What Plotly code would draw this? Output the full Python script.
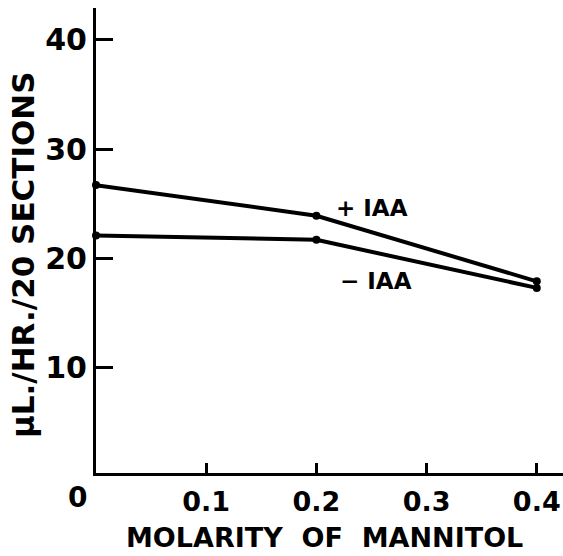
import plotly.graph_objects as go

molarity = [0.0, 0.2, 0.4]
plus_iaa = [26.7, 23.9, 17.9]
minus_iaa = [22.1, 21.7, 17.3]
y_ticks = [10, 20, 30, 40]
x_ticks = [0.1, 0.2, 0.3, 0.4]
x_tick_text = ["0.1", "0.2", "0.3", "0.4"]

FONT = "DejaVu Sans"
W, H = 563, 556
L, R, T, B = 96, 0, 8, 83


def px_to_paper(xp, yp):
    return (xp - L) / (W - L - R), (H - B - yp) / (H - T - B)


fig = go.Figure()
for ys in (plus_iaa, minus_iaa):
    fig.add_trace(go.Scatter(
        x=molarity, y=ys, mode="lines+markers",
        line=dict(color="black", width=4),
        marker=dict(color="black", size=8),
        showlegend=False, cliponaxis=False,
    ))

fig.add_annotation(x=0.2505, y=24.6, text="<b>+ IAA</b>", showarrow=False,
                   font=dict(family=FONT, size=23, color="black"))
fig.add_annotation(x=0.254, y=17.9, text="<b>− IAA</b>", showarrow=False,
                   font=dict(family=FONT, size=23, color="black"))
fig.add_annotation(x=0, y=0.37, xref="x", yref="y", text="<b>0</b>", showarrow=False,
                   xshift=-19, yshift=-24, xanchor="center", yanchor="middle",
                   font=dict(family=FONT, size=28, color="black"))

tx, ty = px_to_paper(324, 538)
fig.add_annotation(x=tx, y=ty, xref="paper", yref="paper", xanchor="center", yanchor="middle",
                   text="<b>MOLARITY&nbsp; OF&nbsp; MANNITOL</b>",
                   showarrow=False, font=dict(family=FONT, size=27, color="black"))
tx, ty = px_to_paper(23, 255)
fig.add_annotation(x=tx, y=ty, xref="paper", yref="paper", xanchor="center", yanchor="middle",
                   text="<b>μL./HR./20 SECTIONS</b>",
                   textangle=-90, showarrow=False, font=dict(family=FONT, size=31, color="black"))

fig.update_layout(
    width=W, height=H,
    margin=dict(l=L, r=R, t=T, b=B),
    plot_bgcolor="white", paper_bgcolor="white",
    font=dict(family=FONT, color="black"),
    xaxis=dict(
        range=[0, 0.4238], tickvals=x_ticks, ticktext=[f"<b>{t}</b>" for t in x_tick_text],
        ticks="inside", ticklen=10, tickwidth=3, tickcolor="black",
        showline=True, linewidth=3, linecolor="black", showgrid=False, zeroline=False,
        tickfont=dict(family=FONT, size=27, color="black"),
        ticklabelstandoff=3,
    ),
    yaxis=dict(
        range=[0.37, 42.9], tickvals=y_ticks, ticktext=[f"<b>{t}</b>" for t in y_ticks],
        ticks="inside", ticklen=17, tickwidth=3, tickcolor="black",
        showline=True, linewidth=3, linecolor="black", showgrid=False, zeroline=False,
        tickfont=dict(family=FONT, size=30, color="black"),
        ticklabelstandoff=0,
    ),
)

fig.write_html("out.html")
